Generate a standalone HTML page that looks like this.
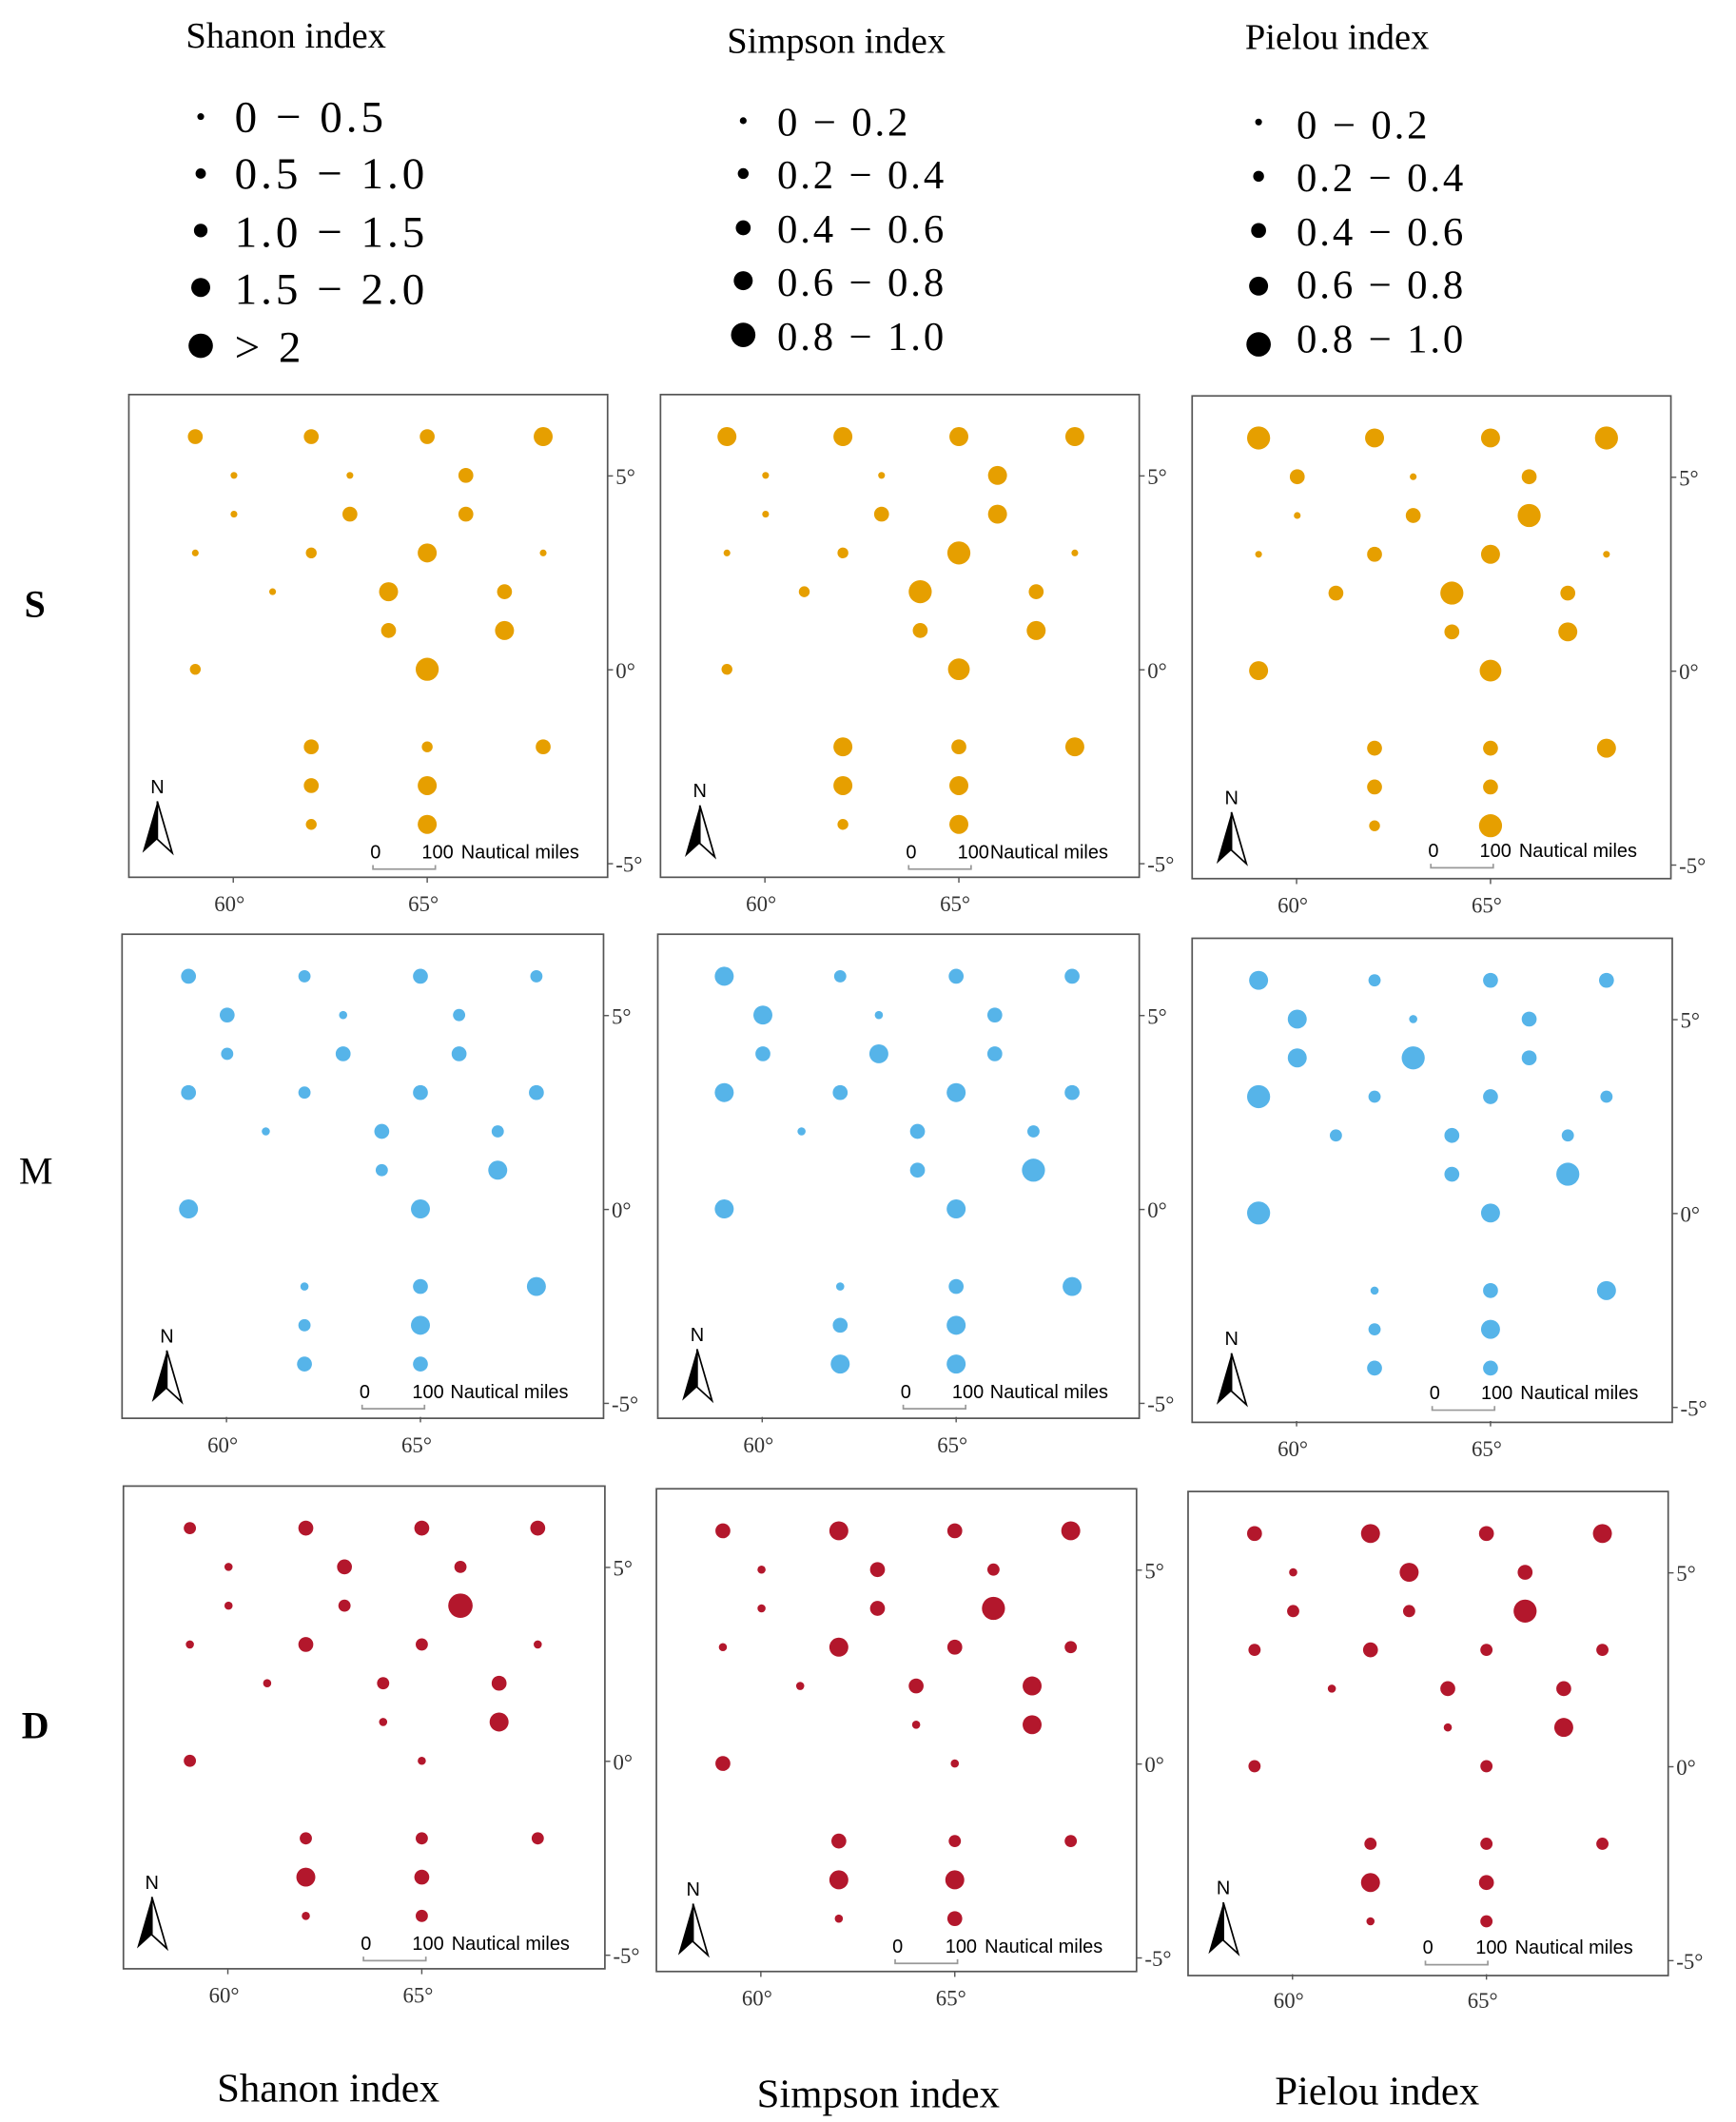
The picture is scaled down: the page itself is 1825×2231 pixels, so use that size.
<!DOCTYPE html>
<html><head><meta charset="utf-8"><style>
html,body{margin:0;padding:0;background:#fff;}
svg{display:block;}
.t{font-family:"Liberation Serif",serif;fill:#000;}
.s{font-family:"Liberation Sans",sans-serif;fill:#000;font-size:14px;}
.ax{font-family:"Liberation Serif",serif;font-size:16px;fill:#333;}
</style></head><body>
<svg id="c" width="1825" height="2231" viewBox="0 0 1280 1565" preserveAspectRatio="none" xmlns="http://www.w3.org/2000/svg">
<rect width="1280" height="1565" fill="#fff"/>
<text class="t" x="137" y="35" font-size="27">Shanon index</text>
<g class="t" font-size="33" letter-spacing="2.8">
<text x="173" y="97">0 − 0.5</text><text x="173" y="139">0.5 − 1.0</text><text x="173" y="182">1.0 − 1.5</text><text x="173" y="224">1.5 − 2.0</text><text x="173" y="267">&gt; 2</text>
</g>
<circle cx="148" cy="86" r="2.5"/><circle cx="148" cy="128" r="3.8"/><circle cx="148" cy="170" r="5"/><circle cx="148" cy="212" r="7"/><circle cx="148" cy="255" r="9"/>
<text class="t" x="536" y="39" font-size="27">Simpson index</text>
<g class="t" font-size="30" letter-spacing="2">
<text x="573" y="100">0 − 0.2</text><text x="573" y="139">0.2 − 0.4</text><text x="573" y="179">0.4 − 0.6</text><text x="573" y="218">0.6 − 0.8</text><text x="573" y="258">0.8 − 1.0</text>
</g>
<circle cx="548" cy="89" r="2.5"/><circle cx="548" cy="128" r="4"/><circle cx="548" cy="168" r="5.5"/><circle cx="548" cy="207" r="7"/><circle cx="548" cy="247" r="9"/>
<text class="t" x="918" y="36" font-size="27">Pielou index</text>
<g class="t" font-size="30" letter-spacing="2">
<text x="956" y="102">0 − 0.2</text><text x="956" y="141">0.2 − 0.4</text><text x="956" y="181">0.4 − 0.6</text><text x="956" y="220">0.6 − 0.8</text><text x="956" y="260">0.8 − 1.0</text>
</g>
<circle cx="928" cy="90" r="2.5"/><circle cx="928" cy="130" r="4"/><circle cx="928" cy="170" r="5.5"/><circle cx="928" cy="211" r="7"/><circle cx="928" cy="254" r="9"/>
<text class="t" x="18" y="455" font-size="28" font-weight="bold">S</text>
<text class="t" x="14" y="873" font-size="28">M</text>
<text class="t" x="16" y="1282" font-size="28" font-weight="bold">D</text>
<text class="t" x="160" y="1550" font-size="30">Shanon index</text>
<text class="t" x="558" y="1554" font-size="30">Simpson index</text>
<text class="t" x="940" y="1552" font-size="30">Pielou index</text>

<g id="p0" transform="translate(95,291)"><rect x="0" y="0" width="353" height="356" fill="none" stroke="#555" stroke-width="1.2"/>
<text class="ax" x="359" y="66">5°</text><text class="ax" x="359" y="209">0°</text><text class="ax" x="359" y="352">-5°</text>
<text class="ax" x="63" y="381">60°</text><text class="ax" x="206" y="381">65°</text>
<text class="s" x="16" y="294" font-size="14">N</text><text class="s" x="178" y="342">0</text><text class="s" x="216" y="342">100</text><text class="s" x="245" y="342">Nautical miles</text></g>
<g id="p1" transform="translate(487,291)"><rect x="0" y="0" width="353" height="356" fill="none" stroke="#555" stroke-width="1.2"/>
<text class="ax" x="359" y="66">5°</text><text class="ax" x="359" y="209">0°</text><text class="ax" x="359" y="352">-5°</text>
<text class="ax" x="63" y="381">60°</text><text class="ax" x="206" y="381">65°</text>
<text class="s" x="24" y="297">N</text><text class="s" x="181" y="342">0</text><text class="s" x="219" y="342">100</text><text class="s" x="243" y="342">Nautical miles</text></g>
<g id="p2" transform="translate(879,292)"><rect x="0" y="0" width="353" height="356" fill="none" stroke="#555" stroke-width="1.2"/>
<text class="ax" x="359" y="66">5°</text><text class="ax" x="359" y="209">0°</text><text class="ax" x="359" y="352">-5°</text>
<text class="ax" x="63" y="381">60°</text><text class="ax" x="206" y="381">65°</text>
<text class="s" x="24" y="301">N</text><text class="s" x="174" y="340">0</text><text class="s" x="212" y="340">100</text><text class="s" x="241" y="340">Nautical miles</text></g>
<g id="p3" transform="translate(90,689)"><rect x="0" y="0" width="355" height="357" fill="none" stroke="#555" stroke-width="1.2"/>
<text class="ax" x="361" y="66">5°</text><text class="ax" x="361" y="209">0°</text><text class="ax" x="361" y="352">-5°</text>
<text class="ax" x="63" y="382">60°</text><text class="ax" x="206" y="382">65°</text>
<text class="s" x="28" y="301">N</text><text class="s" x="175" y="342">0</text><text class="s" x="214" y="342">100</text><text class="s" x="242" y="342">Nautical miles</text></g>
<g id="p4" transform="translate(485,689)"><rect x="0" y="0" width="355" height="357" fill="none" stroke="#555" stroke-width="1.2"/>
<text class="ax" x="361" y="66">5°</text><text class="ax" x="361" y="209">0°</text><text class="ax" x="361" y="352">-5°</text>
<text class="ax" x="63" y="382">60°</text><text class="ax" x="206" y="382">65°</text>
<text class="s" x="24" y="300">N</text><text class="s" x="179" y="342">0</text><text class="s" x="217" y="342">100</text><text class="s" x="245" y="342">Nautical miles</text></g>
<g id="p5" transform="translate(879,692)"><rect x="0" y="0" width="354" height="357" fill="none" stroke="#555" stroke-width="1.2"/>
<text class="ax" x="360" y="66">5°</text><text class="ax" x="360" y="209">0°</text><text class="ax" x="360" y="352">-5°</text>
<text class="ax" x="63" y="382">60°</text><text class="ax" x="206" y="382">65°</text>
<text class="s" x="24" y="300">N</text><text class="s" x="175" y="340">0</text><text class="s" x="213" y="340">100</text><text class="s" x="242" y="340">Nautical miles</text></g>
<g id="p6" transform="translate(91,1096)"><rect x="0" y="0" width="355" height="356" fill="none" stroke="#555" stroke-width="1.2"/>
<text class="ax" x="361" y="66">5°</text><text class="ax" x="361" y="209">0°</text><text class="ax" x="361" y="352">-5°</text>
<text class="ax" x="63" y="381">60°</text><text class="ax" x="206" y="381">65°</text>
<text class="s" x="16" y="297">N</text><text class="s" x="175" y="342">0</text><text class="s" x="213" y="342">100</text><text class="s" x="242" y="342">Nautical miles</text></g>
<g id="p7" transform="translate(484,1098)"><rect x="0" y="0" width="354" height="356" fill="none" stroke="#555" stroke-width="1.2"/>
<text class="ax" x="360" y="66">5°</text><text class="ax" x="360" y="209">0°</text><text class="ax" x="360" y="352">-5°</text>
<text class="ax" x="63" y="381">60°</text><text class="ax" x="206" y="381">65°</text>
<text class="s" x="22" y="300">N</text><text class="s" x="174" y="342">0</text><text class="s" x="213" y="342">100</text><text class="s" x="242" y="342">Nautical miles</text></g>
<g id="p8" transform="translate(876,1100)"><rect x="0" y="0" width="354" height="357" fill="none" stroke="#555" stroke-width="1.2"/>
<text class="ax" x="360" y="66">5°</text><text class="ax" x="360" y="209">0°</text><text class="ax" x="360" y="352">-5°</text>
<text class="ax" x="63" y="381">60°</text><text class="ax" x="206" y="381">65°</text>
<text class="s" x="21" y="297">N</text><text class="s" x="173" y="341">0</text><text class="s" x="212" y="341">100</text><text class="s" x="241" y="341">Nautical miles</text></g>
</svg>
<script>
var st=[[59,6],[62,6],[65,6],[68,6],[60,5],[63,5],[66,5],[60,4],[63,4],[66,4],[59,3],[62,3],[65,3],[68,3],[61,2],[64,2],[67,2],[64,1],[67,1],[59,0],[65,0],[62,-2],[65,-2],[68,-2],[62,-3],[65,-3],[62,-4],[65,-4]];
var R=[
[5.5,5.5,5.5,7,2.5,2.5,5.5,2.5,5.5,5.5,2.5,4,7,2.5,2.5,7,5.5,5.5,7,4,8.5,5.5,4,5.5,5.5,7,4,7],
[7,7,7,7,2.5,2.5,7,2.5,5.5,7,2.5,4,8.5,2.5,4,8.5,5.5,5.5,7,4,8,7,5.5,7,7,7,4,7],
[8.5,7,7,8.5,5.5,2.5,5.5,2.5,5.5,8.5,2.5,5.5,7,2.5,5.5,8.5,5.5,5.5,7,7,8,5.5,5.5,7,5.5,5.5,4,8.5],
[5.5,4.5,5.5,4.5,5.5,3,4.5,4.5,5.5,5.5,5.5,4.5,5.5,5.5,3,5.5,4.5,4.5,7,7,7,3,5.5,7,4.5,7,5.5,5.5],
[7,4.5,5.5,5.5,7,3,5.5,5.5,7,5.5,7,5.5,7,5.5,3,5.5,4.5,5.5,8.5,7,7,3,5.5,7,5.5,7,7,7],
[7,4.5,5.5,5.5,7,3,5.5,7,8.5,5.5,8.5,4.5,5.5,4.5,4.5,5.5,4.5,5.5,8.5,8.5,7,3,5.5,7,4.5,7,5.5,5.5],
[4.5,5.5,5.5,5.5,3,5.5,4.5,3,4.5,9,3,5.5,4.5,3,3,4.5,5.5,3,7,4.5,3,4.5,4.5,4.5,7,5.5,3,4.5],
[5.5,7,5.5,7,3,5.5,4.5,3,5.5,8.5,3,7,5.5,4.5,3,5.5,7,3,7,5.5,3,5.5,4.5,4.5,7,7,3,5.5],
[5.5,7,5.5,7,3,7,5.5,4.5,4.5,8.5,4.5,5.5,4.5,4.5,3,5.5,5.5,3,7,4.5,4.5,4.5,4.5,4.5,7,5.5,3,4.5]];
var col=["#E69F00","#56B4E9","#B3172C"],ns="http://www.w3.org/2000/svg";
function el(t,a,p){var e=document.createElementNS(ns,t);for(var k in a)e.setAttribute(k,a[k]);p.appendChild(e);return e;}
for(var p=0;p<9;p++){var g=document.getElementById("p"+p),c=col[Math.floor(p/3)];
 var w=+g.querySelector("rect").getAttribute("width");
 for(var i=0;i<st.length;i++){el("circle",{cx:49+(st[i][0]-59)*28.5,cy:31+(6-st[i][1])*28.6,r:R[p][i],fill:c},g);}
 [60,203,346].forEach(function(y){el("line",{x1:w,x2:w+4,y1:y,y2:y,stroke:"#555"},g);});
 [77,220].forEach(function(x){el("line",{x1:x,x2:x,y1:356,y2:360,stroke:"#555"},g);});
 var nx=+g.querySelectorAll("text")[5].getAttribute("x")+5, ny=+g.querySelectorAll("text")[5].getAttribute("y");
 el("polygon",{points:(nx)+","+(ny+6)+" "+(nx-11)+","+(ny+44)+" "+(nx)+","+(ny+34),fill:"#000"},g);
 el("polygon",{points:(nx)+","+(ny+6)+" "+(nx+11)+","+(ny+44)+" "+(nx)+","+(ny+34),fill:"#fff",stroke:"#000","stroke-width":1.2},g);
 var sx=+g.querySelectorAll("text")[6].getAttribute("x")+2, sy=+g.querySelectorAll("text")[6].getAttribute("y")+8;
 el("path",{d:"M"+sx+" "+(sy-3)+"V"+sy+"H"+(sx+46)+"V"+(sy-3),fill:"none",stroke:"#999","stroke-width":1.2},g);
}
</script>
</body></html>
